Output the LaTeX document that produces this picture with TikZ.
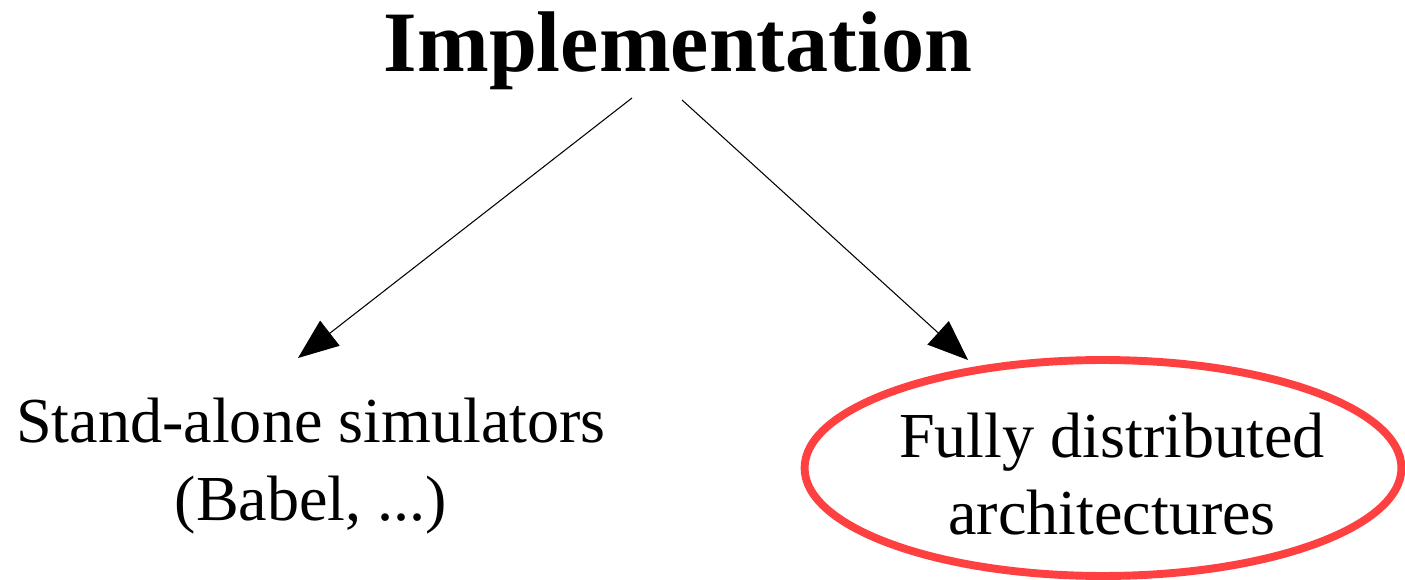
\documentclass[tikz,border=0pt]{standalone}
\usepackage{fontspec}
\setmainfont{Liberation Serif}
\usetikzlibrary{arrows.meta,shapes.geometric}
\definecolor{ringred}{RGB}{255,64,64}
\tikzset{
  heading/.style={font=\fontsize{49}{56}\selectfont\bfseries, anchor=base, inner sep=0pt},
  branch/.style={font=\fontsize{36.5}{44}\selectfont, align=center, inner sep=0pt},
  ring/.style={ellipse, draw=ringred, line width=4.5pt, minimum width=11.94cm, minimum height=4.32cm, inner sep=0pt},
  link/.style={line width=0.6pt, -{Triangle[length=23pt, width=18pt]}}
}
\begin{document}
\begin{tikzpicture}[x=0.02cm, y=-0.02cm]
  \useasboundingbox (0,0) rectangle (1405,580);
  \node[heading] (title) at (678,72) {Implementation};
  \node[branch] (left) at (311,466) {Stand-alone simulators\\(Babel, ...)};
  \node[ring] (right) at (1103,468) {};
  \node[branch] (rtext) at (1112,474) {Fully distributed\\architectures};
  \coordinate (ls) at (632,98);
  \coordinate (le) at (298,358);
  \coordinate (rs) at (682,100);
  \coordinate (re) at (968,360);
  \draw[link] (ls) -- (le);
  \draw[link] (rs) -- (re);
\end{tikzpicture}
\end{document}
